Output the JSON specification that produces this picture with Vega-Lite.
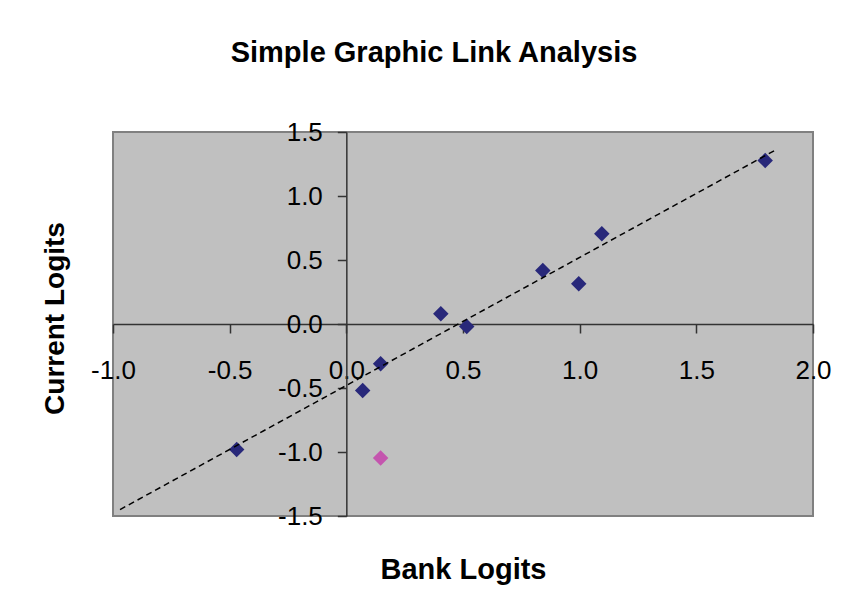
{
  "$schema": "https://vega.github.io/schema/vega-lite/v6.json",
  "autosize": {"type": "none"},
  "padding": {"left": 113, "top": 132, "right": 33, "bottom": 100},
  "width": 700,
  "height": 384,
  "background": "white",
  "title": {
    "text": "Simple Graphic Link Analysis",
    "font": "Liberation Sans",
    "fontSize": 29,
    "fontWeight": "bold",
    "color": "black",
    "anchor": "middle",
    "dx": -29,
    "baseline": "alphabetic",
    "offset": 28
  },
  "config": {
    "view": {"fill": "#C0C0C0", "stroke": "#808080", "strokeWidth": 2},
    "axis": {
      "grid": false,
      "domainColor": "#333333",
      "domainWidth": 1.5,
      "tickColor": "#333333",
      "tickWidth": 1.5,
      "tickSize": 9,
      "labelFont": "Liberation Sans",
      "labelFontSize": 26,
      "labelColor": "black",
      "labelOverlap": false,
      "labelFlush": false,
      "labelBound": false,
      "titleFont": "Liberation Sans",
      "titleFontWeight": "bold",
      "titleColor": "black"
    }
  },
  "datasets": {
    "points": [
      {"bank": -0.47, "current": -0.98, "series": "main"},
      {"bank": 0.07, "current": -0.52, "series": "main"},
      {"bank": 0.147, "current": -0.31, "series": "main"},
      {"bank": 0.405, "current": 0.08, "series": "main"},
      {"bank": 0.516, "current": -0.02, "series": "main"},
      {"bank": 0.842, "current": 0.418, "series": "main"},
      {"bank": 0.996, "current": 0.314, "series": "main"},
      {"bank": 1.095, "current": 0.705, "series": "main"},
      {"bank": 1.795, "current": 1.277, "series": "main"},
      {"bank": 0.147, "current": -1.047, "series": "outlier"}
    ],
    "trend": [
      {"bank": -0.97, "current": -1.45},
      {"bank": 1.84, "current": 1.36}
    ]
  },
  "layer": [
    {
      "data": {"name": "points"},
      "mark": {"type": "point", "shape": "diamond", "filled": true, "size": 240, "opacity": 1},
      "encoding": {
        "x": {
          "field": "bank",
          "type": "quantitative",
          "scale": {"domain": [-1, 2], "nice": false, "zero": false},
          "axis": {
            "orient": "bottom",
            "offset": -192,
            "values": [-1, -0.5, 0, 0.5, 1, 1.5, 2],
            "format": ".1f",
            "labelExpr": "replace(datum.label, '\u2212', '-')",
            "labelPadding": 24,
            "title": "Bank Logits",
            "titleFontSize": 29,
            "titleX": 350,
            "titleY": 254,
            "titleBaseline": "alphabetic"
          }
        },
        "y": {
          "field": "current",
          "type": "quantitative",
          "scale": {"domain": [-1.5, 1.5], "nice": false, "zero": false},
          "axis": {
            "orient": "left",
            "offset": -233.33,
            "values": [-1.5, -1, -0.5, 0, 0.5, 1, 1.5],
            "format": ".1f",
            "labelExpr": "replace(datum.label, '\u2212', '-')",
            "labelPadding": 15,
            "title": "Current Logits",
            "titleFontSize": 28,
            "titleAngle": -90,
            "titleX": -283,
            "titleY": 186,
            "titleBaseline": "alphabetic"
          }
        },
        "color": {
          "field": "series",
          "type": "nominal",
          "scale": {"domain": ["main", "outlier"], "range": ["#28287A", "#C455AE"]},
          "legend": null
        }
      }
    },
    {
      "data": {"name": "trend"},
      "mark": {"type": "line", "color": "black", "strokeWidth": 1.5, "strokeDash": [6, 4]},
      "encoding": {
        "x": {"field": "bank", "type": "quantitative"},
        "y": {"field": "current", "type": "quantitative"}
      }
    }
  ]
}
